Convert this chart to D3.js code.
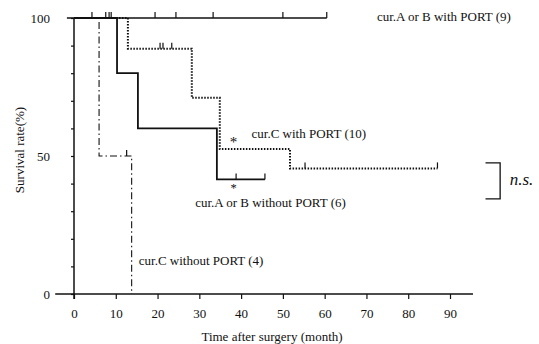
<!DOCTYPE html>
<html><head><meta charset="utf-8">
<script src="https://cdn.jsdelivr.net/npm/d3@7"></script>
<style>
body{margin:0;background:#fff}
svg{display:block}
text{font-family:"Liberation Serif","DejaVu Serif",serif;fill:#111}
</style></head>
<body>
<script>
// ---- data ----
const xTicks = [0,10,20,30,40,50,60,70,80,90];
const yTicks = [0,10,20,30,40,50,60,70,80,90,100];
const yLabels = [0,50,100];

// step curves: [month, survival %]
const abWithSteps = [[0,100]];
const abWithEnd = 60.5;
const abWithCensor = [4.3,7.6,8.4,8.9,19.4,24.4,33.3,50,60.5];

const cWithSteps = [[0,100],[12.9,88.9],[28.2,71.1],[34.9,52.5],[51.7,45.5]];
const cWithEnd = 87;
const cWithCensor = [[20.6,88.9],[21.3,88.9],[23.4,88.9],[55.3,45.5],[87,45.5]];

const abWithoutSteps = [[0,100],[10.3,80],[15.3,60],[34.2,41.5]];
const abWithoutEnd = 45.7;
const abWithoutCensor = [[38.8,41.5],[45.7,41.5]];

const cWithoutSteps = [[0,100],[6,50],[13.8,0]];
const cWithoutEnd = 13.8;
const cWithoutCensor = [[12.6,50]];

const labels = [
  {text:"cur.A or B with PORT (9)", t:72.5, s:99},
  {text:"cur.C with PORT (10)", t:42.5, s:56.5},
  {text:"cur.A or B without PORT (6)", t:29, s:31.5},
  {text:"cur.C without PORT (4)", t:15.5, s:10.5}
];
const stars = [{t:38.2, s:53.1, size:15},{t:38.2, s:36.8, size:12.5}];

// ---- drawing ----
const W=539,H=344;
const svg=d3.select("body").append("svg").attr("width",W).attr("height",H);
const x=d3.scaleLinear([0,90],[74,450]);
const y=d3.scaleLinear([0,100],[294,18]);

// axes
const xa=svg.append("g").attr("transform",`translate(0,${y(0)})`)
  .call(d3.axisBottom(x).tickValues(xTicks).tickSize(5).tickPadding(10).tickFormat(d3.format("d")));
xa.select(".domain").remove();
xa.selectAll("line").attr("stroke","#111").attr("stroke-width",1.2);
xa.selectAll("text").attr("font-size",13).attr("font-family","Liberation Serif").attr("fill","#111");
svg.append("line").attr("x1",x(-4.5)).attr("x2",x(95.5)).attr("y1",y(0)).attr("y2",y(0))
  .attr("stroke","#111").attr("stroke-width",1.5);

const ya=svg.append("g").attr("transform",`translate(${x(0)},0)`)
  .call(d3.axisLeft(y).tickValues(yTicks).tickSize(3).tickPadding(21)
    .tickFormat(d=>yLabels.includes(d)?d:""));
ya.select(".domain").remove();
ya.selectAll("line").attr("stroke","#111").attr("stroke-width",1.2);
ya.selectAll("text").attr("font-size",13).attr("font-family","Liberation Serif").attr("fill","#111");
svg.append("line").attr("x1",x(0)).attr("x2",x(0)).attr("y1",y(100)).attr("y2",y(0)+5)
  .attr("stroke","#111").attr("stroke-width",1.5);
svg.append("line").attr("x1",x(-1.7)).attr("x2",x(0)).attr("y1",y(100)).attr("y2",y(100))
  .attr("stroke","#111").attr("stroke-width",1.5);

function stepPath(steps,end){
  const pts=[];
  steps.forEach((p,i)=>{
    if(i>0) pts.push([p[0],steps[i-1][1]]);
    pts.push(p);
  });
  pts.push([end,steps[steps.length-1][1]]);
  return d3.line().x(d=>x(d[0])).y(d=>y(d[1]))(pts);
}
function drawCurve(steps,end,censor,style){
  svg.append("path").attr("d",stepPath(steps,end)).attr("fill","none")
    .attr("stroke","#111").attr("stroke-width",style.w).attr("stroke-dasharray",style.dash||null);
  svg.append("g").selectAll("line").data(censor).join("line")
    .attr("x1",d=>x(d[0])).attr("x2",d=>x(d[0]))
    .attr("y1",d=>y(d[1])).attr("y2",d=>y(d[1])-6)
    .attr("stroke","#111").attr("stroke-width",1.2);
}
drawCurve(cWithoutSteps,cWithoutEnd,cWithoutCensor,{w:1.1,dash:"7,3,1.5,3"});
drawCurve(cWithSteps,cWithEnd,cWithCensor,{w:2,dash:"1.5,1.5"});
drawCurve(abWithoutSteps,abWithoutEnd,abWithoutCensor,{w:1.8});
drawCurve(abWithSteps,abWithEnd,abWithCensor.map(t=>[t,100]),{w:1.5});

// labels
svg.append("g").selectAll("text").data(labels).join("text")
  .attr("x",d=>x(d.t)).attr("y",d=>y(d.s)).attr("font-size",13).text(d=>d.text);
svg.append("g").selectAll("text").data(stars).join("text")
  .attr("x",d=>x(d.t)).attr("y",d=>y(d.s)).attr("font-size",d=>d.size)
  .attr("text-anchor","middle").text("*");

// n.s. bracket
svg.append("path").attr("d",`M${x(98.5)},${y(47.5)}H${x(102)}V${y(34.5)}H${x(98.5)}`)
  .attr("fill","none").attr("stroke","#111").attr("stroke-width",1.3);
svg.append("text").attr("x",x(104.3)).attr("y",y(39.5)).attr("font-size",17).attr("font-style","italic").text("n.s.");

// titles
svg.append("text").attr("x",272).attr("y",341).attr("text-anchor","middle").attr("font-size",13).text("Time after surgery (month)");
svg.append("text").attr("transform",`translate(24,150) rotate(-90)`).attr("text-anchor","middle").attr("font-size",13).text("Survival rate(%)");
</script>
</body></html>
